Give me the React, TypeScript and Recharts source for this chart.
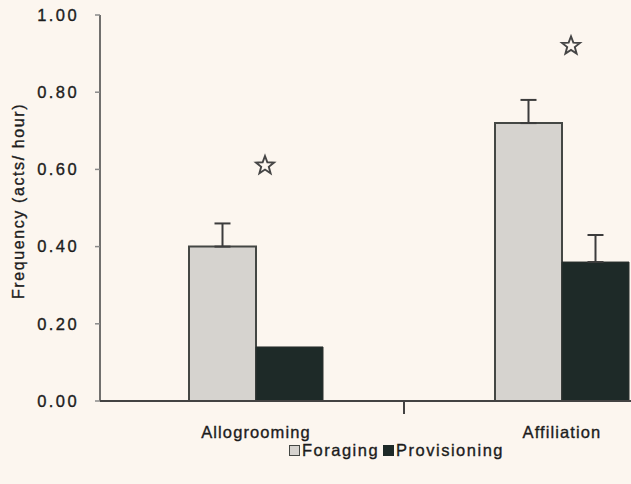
import React from 'react';
import { BarChart, Bar, XAxis, YAxis, ErrorBar, ReferenceDot, Legend } from 'recharts';

// Behaviour categories and mean frequencies (acts/hour) per condition
const categories = ['Allogrooming', 'Affiliation'];
const foraging = [0.4, 0.72];
const foragingErr = [0.06, 0.06];
const provisioning = [0.14, 0.36];
const provisioningErr = [0, 0.07];
// Height at which the significance star sits above each group
const starLevels = [0.61, 0.92];
const yTicks = [0, 0.2, 0.4, 0.6, 0.8, 1.0];
const seriesNames = ['Foraging', 'Provisioning'];

const data = categories.map((name, i) => ({
  name,
  foraging: foraging[i],
  foragingErr: [0, foragingErr[i]],
  provisioning: provisioning[i],
  provisioningErr: provisioningErr[i] > 0 ? [0, provisioningErr[i]] : null,
}));

const FONT = '"Liberation Sans", Arial, Helvetica, sans-serif';
const BG = '#fcf6ef';
const INK = '#1c1c1c';
const AXIS = '#434343';
const FORAGING_FILL = '#d6d3cf';
const FORAGING_EDGE = '#444744';
const PROV_FILL = '#1e2a28';
const PROV_EDGE = '#2a302e';
// a hairline outline gives the printed labels a little more weight
const TEXT_WEIGHT = { stroke: INK, strokeWidth: 0.35 };

const CAT_TICK_MARGIN = 25;

// Category label, plus the divider tick between the two groups
const CategoryTick = (props: any) => {
  const { x, y, payload, index } = props;
  const axisY = y - CAT_TICK_MARGIN;
  const half = payload && typeof payload.offset === 'number' ? payload.offset : 0;
  return (
    <g>
      {index === 0 && half > 0 ? (
        <line x1={x + half - 5} x2={x + half - 5} y1={axisY} y2={axisY + 13} stroke={AXIS} strokeWidth={2} />
      ) : null}
      <text
        x={x}
        y={y}
        dy="0.71em"
        textAnchor="middle"
        fontFamily={FONT}
        fontSize={16.5}
        letterSpacing={1.1}
        fill={INK}
        {...TEXT_WEIGHT}
      >
        {payload.value}
      </text>
    </g>
  );
};

const YTitle = (props: any) => {
  const vb = props.viewBox || { x: 0, y: 0, width: 0, height: 0 };
  const bx = 24;
  const cy = vb.y + vb.height / 2 - 7;
  return (
    <text
      x={bx}
      y={cy}
      transform={`rotate(-90, ${bx}, ${cy})`}
      textAnchor="middle"
      fontFamily={FONT}
      fontSize={16}
      letterSpacing={1.6}
      fill={INK}
      {...TEXT_WEIGHT}
    >
      Frequency (acts/ hour)
    </text>
  );
};

const starPath = (cx: number, cy: number, R: number, r: number) => {
  const pts: string[] = [];
  for (let k = 0; k < 10; k++) {
    const rad = k % 2 === 0 ? R : r;
    const a = -Math.PI / 2 + (k * Math.PI) / 5;
    pts.push(`${(cx + rad * Math.cos(a)).toFixed(2)},${(cy + rad * Math.sin(a)).toFixed(2)}`);
  }
  return `M${pts.join('L')}Z`;
};

const StarMark = (props: any) => (
  <path
    d={starPath(props.cx + 9, props.cy, 9.5, 4)}
    fill="none"
    stroke="#454545"
    strokeWidth={1.9}
    strokeLinejoin="miter"
  />
);

const LegendContent = (props: any) => {
  const items = props.payload || [];
  return (
    <div
      style={{
        display: 'flex',
        justifyContent: 'center',
        alignItems: 'center',
        fontFamily: FONT,
        fontSize: 16.5,
        color: INK,
        letterSpacing: 1.5,
        WebkitTextStroke: '0.35px ' + INK,
      }}
    >
      {items.map((it: any, i: number) => (
        <span key={it.value} style={{ display: 'inline-flex', alignItems: 'center', marginLeft: i === 0 ? 0 : 4 }}>
          <span
            style={{
              display: 'inline-block',
              width: 11,
              height: 11,
              boxSizing: 'border-box',
              background: i === 0 ? FORAGING_FILL : PROV_FILL,
              border: `1.5px solid ${i === 0 ? FORAGING_EDGE : PROV_FILL}`,
              marginRight: 2,
            }}
          />
          <span>{it.value}</span>
        </span>
      ))}
    </div>
  );
};

export default function App() {
  return (
    <div
      style={{
        position: 'fixed',
        left: 0,
        top: 0,
        width: 631,
        height: 484,
        overflow: 'hidden',
        background: BG,
      }}
    >
      <BarChart
        width={793}
        height={484}
        data={data}
        margin={{ top: 15, right: 78, bottom: 0, left: 0 }}
        barGap={0}
      >
        <XAxis
          dataKey="name"
          height={83}
          padding={{ left: 3, right: 0 }}
          axisLine={{ stroke: AXIS, strokeWidth: 2 }}
          tickLine={false}
          tickSize={0}
          tickMargin={CAT_TICK_MARGIN}
          tick={<CategoryTick />}
          interval={0}
        />
        <YAxis
          width={100}
          domain={[0, 1]}
          ticks={yTicks}
          interval={0}
          allowDataOverflow
          tickFormatter={(v: number) => v.toFixed(2)}
          tickSize={5}
          tickMargin={16}
          axisLine={{ stroke: AXIS, strokeWidth: 1.5 }}
          tickLine={{ stroke: '#8a8a8a', strokeWidth: 1.5 }}
          tick={{ fontFamily: FONT, fontSize: 16.5, fill: INK, letterSpacing: 2.4, ...TEXT_WEIGHT }}
          label={<YTitle />}
        />
        <Bar
          dataKey="foraging"
          name={seriesNames[0]}
          fill={FORAGING_FILL}
          stroke={FORAGING_EDGE}
          strokeWidth={2}
          barSize={67}
          isAnimationActive={false}
        >
          <ErrorBar dataKey="foragingErr" direction="y" width={8} stroke="#3c3c3c" strokeWidth={2} />
        </Bar>
        <Bar
          dataKey="provisioning"
          name={seriesNames[1]}
          fill={PROV_FILL}
          stroke={PROV_EDGE}
          strokeWidth={1}
          barSize={67}
          isAnimationActive={false}
        >
          <ErrorBar dataKey="provisioningErr" direction="y" width={8} stroke="#3c3c3c" strokeWidth={2} />
        </Bar>
        {categories.map((c, i) => (
          <ReferenceDot key={c} x={c} y={starLevels[i]} shape={<StarMark />} />
        ))}
        <Legend
          layout="horizontal"
          verticalAlign="middle"
          align="center"
          content={<LegendContent />}
          wrapperStyle={{ top: 441, left: 0, width: 793 }}
        />
      </BarChart>
    </div>
  );
}
